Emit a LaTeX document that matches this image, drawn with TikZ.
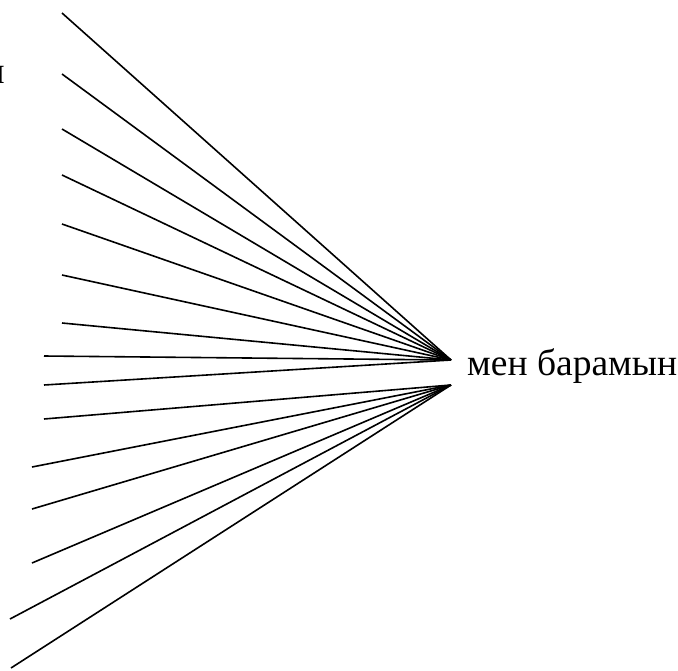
\documentclass[tikz,border=0pt]{standalone}
\usepackage{fontspec}
\setmainfont{Liberation Serif}
\usetikzlibrary{positioning}
\tikzset{
  every picture/.append style={font=\fontsize{37.5}{42}\selectfont},
  ray/.style={line width=1.6pt, draw=black},
  word/.style={inner sep=0pt, anchor=base west},
}
\begin{document}
\begin{tikzpicture}[x=1pt,y=-1pt]
\useasboundingbox (0,0) rectangle (678,670);
\clip (0,0) rectangle (678,670);

% ---------------- meeting points and label ----------------
\coordinate (up) at (451,360);
\coordinate (lo) at (451,385);
\node[word] (txt) at (467,375) {мен барамын};
\node[inner sep=0pt, anchor=base east] (cut) at (5,83) {н};

% ---------------- rays to the upper point ----------------
\foreach \i/\x/\y in {1/62/13,2/62/74,3/62/129,4/62/175,5/62/224,
                      6/62/275,7/62/323,8/44/356,9/44/385}{
  \coordinate (s\i) at (\x,\y);
  \draw[ray] (s\i) -- (up);}

% ---------------- rays to the lower point ----------------
\foreach \i/\x/\y in {10/44/419,11/32/467,12/32/509,13/32/563,
                      14/10/619,15/11/668}{
  \coordinate (s\i) at (\x,\y);
  \draw[ray] (s\i) -- (lo);}

\end{tikzpicture}
\end{document}
